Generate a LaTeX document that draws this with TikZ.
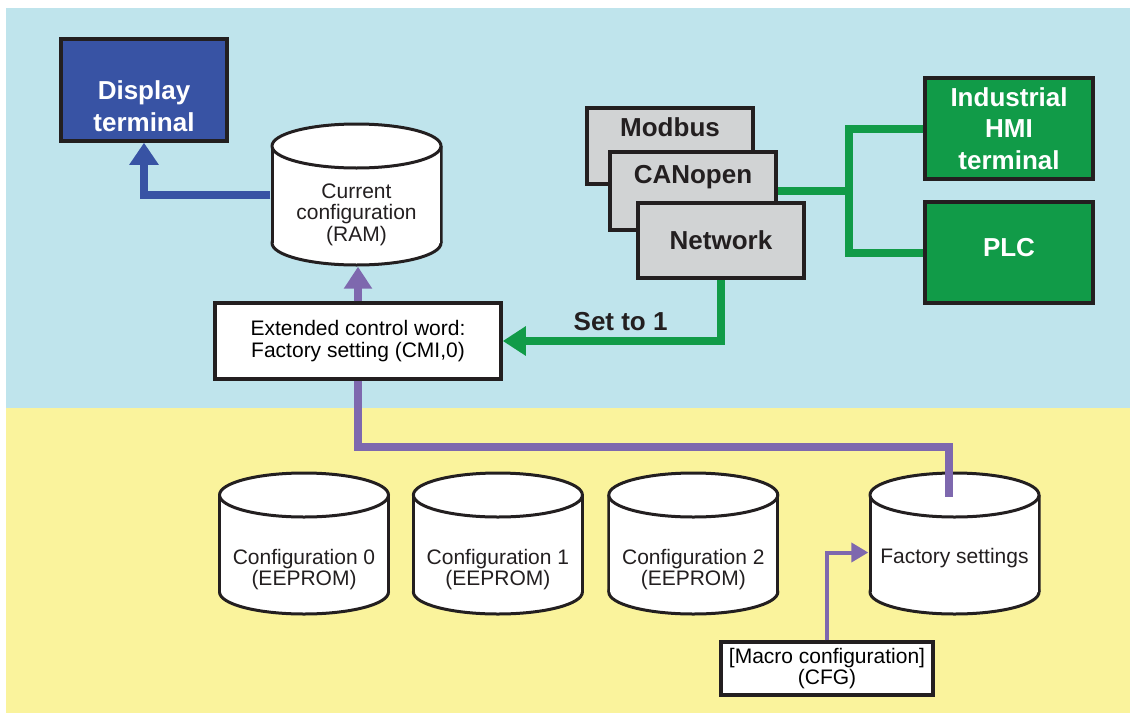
\documentclass[tikz,border=0pt]{standalone}
\usepackage{fontspec}
\setmainfont{Liberation Sans}
\usepackage{tikz}
\usetikzlibrary{positioning, arrows.meta}
\definecolor{SkyBg}{HTML}{BFE4EC}
\definecolor{SandBg}{HTML}{FAF39C}
\definecolor{DispBlue}{HTML}{3853A4}
\definecolor{NetGreen}{HTML}{119B48}
\definecolor{CfgPurple}{HTML}{7E68AE}
\definecolor{BusGray}{HTML}{D1D3D4}
\definecolor{LineBlack}{HTML}{231F20}
\newcommand{\diagfont}{\fontsize{21pt}{21.5pt}\selectfont}
\newcommand{\diagbold}{\fontsize{26pt}{31.5pt}\selectfont\bfseries}

\begin{document}
\begin{tikzpicture}[x=1pt, y=-1pt,
            box/.style={draw=LineBlack, line width=3.5pt, fill=white, inner sep=2pt, align=center, font=\diagfont},
            hwbox/.style={draw=LineBlack, line width=3.5pt, text=white, align=center, font=\diagbold, minimum width=168pt, minimum height=101pt, inner sep=2pt},
            busbox/.style={draw=LineBlack, line width=3.5pt, fill=BusGray, text=LineBlack, font=\diagbold, minimum width=166pt, minimum height=76pt, inner sep=0pt},
            dbline/.style={draw=LineBlack, line width=3pt, fill=white},
            dbcyl/.style={minimum width=172pt, minimum height=144pt, inner sep=0pt,
                path picture={
                    \coordinate (pc) at (path picture bounding box.center);
                    \path[dbline] ([shift={(0,48.5)}]pc) ellipse [x radius=84.5pt, y radius=22pt];
                    \fill[white] ([shift={(-84.5,-48.5)}]pc) rectangle ([shift={(84.5,48.5)}]pc);
                    \draw[LineBlack, line width=3pt] ([shift={(-84.5,-48.5)}]pc) -- ([shift={(-84.5,48.5)}]pc);
                    \draw[LineBlack, line width=3pt] ([shift={(84.5,-48.5)}]pc) -- ([shift={(84.5,48.5)}]pc);
                    \path[dbline] ([shift={(0,-48.5)}]pc) ellipse [x radius=84.5pt, y radius=22pt];
                }},
            dbtext/.style={align=center, font=\diagfont, text=LineBlack, inner sep=0pt},
            bluearrow/.style={-{Triangle[width=28pt, length=22pt]}, line width=8pt, DispBlue},
            greenline/.style={line width=8pt, NetGreen},
            greenarrow/.style={-{Triangle[width=28pt, length=23pt]}, line width=8pt, NetGreen},
            purpleline/.style={line width=8pt, CfgPurple},
            purplearrow/.style={-{Triangle[width=27pt, length=22pt]}, line width=8pt, CfgPurple},
            thinarrow/.style={-{Triangle[width=19pt, length=17pt]}, line width=4pt, CfgPurple}
        ]
            \useasboundingbox (0,0) rectangle (1132,715);
            \fill[white] (0,0) rectangle (1132,715);
            \fill[SkyBg] (6,8) rectangle (1130,408);
            \fill[SandBg] (6,408) rectangle (1130,713);

            % top half
            \node[hwbox, fill=DispBlue, minimum width=166pt, minimum height=102pt,
                  label={[font=\diagbold, text=white, align=center, inner sep=0pt, yshift=-16pt]center:Display\\terminal}] (disp) at (144,90) {};
            \node[dbcyl, label={[dbtext, yshift=-20pt]center:Current\\configuration\\(RAM)}] (cur) at (356.5,194.5) {};
            \node[box, minimum width=286pt, minimum height=76pt] (ext) at (358,341) {Extended control word:\\Factory setting (CMI,0)};

            \node[busbox, text depth=37pt] (modbus) at (670,146) {Modbus};
            \node[busbox, minimum height=78pt, text depth=33pt] (canopen) at (693,191) {CANopen};
            \node[busbox, minimum height=75pt] (network) at (721,240.5) {Network};

            \node[hwbox, fill=NetGreen] (hmi) at (1009,128.5) {Industrial\\HMI\\terminal};
            \node[hwbox, fill=NetGreen, text depth=11pt] (plc) at (1009,252.5) {PLC};

            % bottom half
            \node[dbcyl, label={[dbtext, yshift=-26pt]center:Configuration 0\\(EEPROM)}] (cfg0) at (304,543.5) {};
            \node[dbcyl, right=21.5pt of cfg0, label={[dbtext, yshift=-26pt]center:Configuration 1\\(EEPROM)}] (cfg1) {};
            \node[dbcyl, right=23pt of cfg1, label={[dbtext, yshift=-26pt]center:Configuration 2\\(EEPROM)}] (cfg2) {};
            \node[dbcyl, label={[dbtext, yshift=-15pt]center:Factory settings}] (fac) at (954.5,543.5) {};
            \node[box, minimum width=212pt, minimum height=53pt, inner sep=1pt] (macro) at (827,668.5) {[Macro configuration]\\(CFG)};

            \draw[bluearrow] (cur.west) -| (disp.south);
            \draw[purplearrow] (ext.north) -- (ext.north |- cur.south);
            \draw[purpleline] (ext.south) -- ++(0,66) -| ([shift={(-6,26)}]fac.north);
            \draw[thinarrow] (macro.north) |- ([yshift=-9pt]fac.west);

            \draw[greenline] (canopen.east) -- ++(71,0) coordinate (junction);
            \draw[greenline] (hmi.west) -| (junction) |- (plc.west);
            \draw[greenarrow] (network.south) |- node[pos=0.73, above=4pt, inner sep=2pt, font=\diagbold, text=LineBlack] {Set to 1} (ext.east);

        \end{tikzpicture}
\end{document}
